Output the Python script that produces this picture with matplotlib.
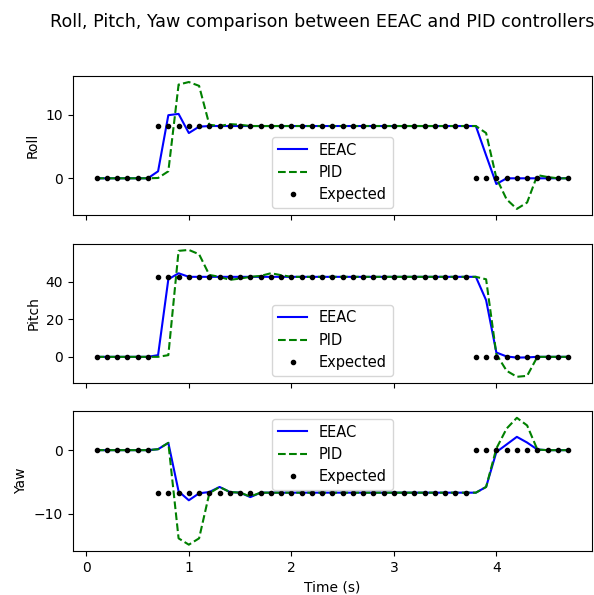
import matplotlib
matplotlib.use("Agg")
import matplotlib.pyplot as plt

time_s = [0.1, 0.2, 0.3, 0.4, 0.5, 0.6, 0.7, 0.8, 0.9, 1.0,
          1.1, 1.2, 1.3, 1.4, 1.5, 1.6, 1.7, 1.8, 1.9, 2.0,
          2.1, 2.2, 2.3, 2.4, 2.5, 2.6, 2.7, 2.8, 2.9, 3.0,
          3.1, 3.2, 3.3, 3.4, 3.5, 3.6, 3.7, 3.8, 3.9, 4.0,
          4.1, 4.2, 4.3, 4.4, 4.5, 4.6, 4.7]

roll_expected = [0] * 6 + [8.2] * 31 + [0] * 10
roll_eeac = [0] * 6 + [1.1, 9.9, 10.1, 7.1, 8.1] + [8.2] * 27 + [3.6, -0.9, 0.0] + [0] * 6
roll_pid = ([0] * 6 + [0.05, 1.1, 14.7, 15.1, 14.5, 8.4, 8.2, 8.5, 8.4] + [8.2] * 23
            + [7.1, 0.05, -3.3, -4.8, -3.8, 0.5, 0.2, 0.0, 0.0])

pitch_expected = [0] * 6 + [42.5] * 31 + [0] * 10
pitch_eeac = [0] * 6 + [0.9, 41.2, 44.4, 42.5] + [42.5] * 28 + [30.1, 2.3, 0.2, -0.4, -0.3] + [0] * 4
pitch_pid = ([0] * 7 + [0.9, 56.3, 56.8, 54.5, 43.5, 42.5, 40.9, 41.6, 42.5, 43.0, 44.4, 43.4]
             + [42.5] * 19 + [41.2, 1.4, -7.4, -10.6, -10.1, 0.0, 0.0, 0.0, 0.0])

yaw_expected = [0] * 6 + [-6.7] * 31 + [0] * 10
yaw_eeac = ([0] * 6 + [0.15, 1.15, -6.5, -7.9, -6.8, -6.6, -5.8, -6.6, -6.7, -7.4]
            + [-6.7] * 22 + [-5.8, -0.3, 0.9, 2.1, 1.2, 0.1] + [0] * 3)
yaw_pid = ([0] * 6 + [0.15, 1.15, -13.9, -14.9, -13.9, -6.8, -5.8, -6.6, -6.7, -7.3]
           + [-6.7] * 22 + [-5.8, 0.26, 3.4, 5.1, 3.9, 0.1] + [0] * 3)

roll_ticks = [0, 10]
pitch_ticks = [0, 20, 40]
yaw_ticks = [-10, 0]
x_ticks = [0, 1, 2, 3, 4]

panels = [
    ("Roll", roll_eeac, roll_pid, roll_expected, roll_ticks, "lower center"),
    ("Pitch", pitch_eeac, pitch_pid, pitch_expected, pitch_ticks, "lower center"),
    ("Yaw", yaw_eeac, yaw_pid, yaw_expected, yaw_ticks, "upper center"),
]

fig, axes = plt.subplots(3, 1, sharex=True, figsize=(5.94, 5.95), dpi=100)
fig.subplots_adjust(left=0.1229, right=0.9961, top=0.8728, bottom=0.0739, hspace=0.203)

for ax, (name, eeac, pid, expected, ticks, loc) in zip(axes, panels):
    ax.plot(time_s, eeac, "b-", label="EEAC")
    ax.plot(time_s, pid, "g--", label="PID")
    ax.plot(time_s, expected, "k.", label="Expected")
    ax.set_ylabel(name)
    ax.set_yticks(ticks)
    ax.legend(loc=loc, fontsize=10.5)

axes[2].set_xticks(x_ticks)
axes[2].set_xlabel("Time (s)")
fig.text(322.5 / 594, 1 - 22 / 595, "Roll, Pitch, Yaw comparison between EEAC and PID controllers",
         ha="center", va="center", fontsize=12.6)

fig.savefig("out.png", dpi=100)
